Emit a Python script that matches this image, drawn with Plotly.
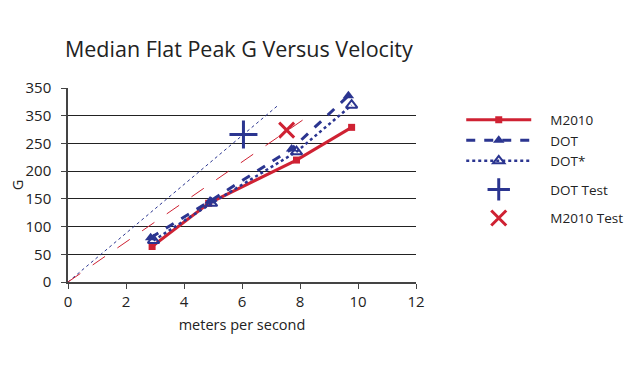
import plotly.graph_objects as go

m2010_x = [2.9, 4.85, 7.88, 9.78]
m2010_y = [64, 142, 220, 279]
dot_x = [2.85, 4.9, 7.71, 9.67]
dot_y = [80, 146, 240, 336]
dots_x = [2.95, 4.95, 7.88, 9.78]
dots_y = [75, 142, 235, 319]
dot_test_x = [6.05]
dot_test_y = [266]
m2010_test_x = [7.54]
m2010_test_y = [274]
ref_blue_x = [0, 7.25]
ref_blue_y = [0, 319]
ref_red_x = [0, 8.2]
ref_red_y = [0, 296]
y_ticks = [0, 50, 100, 150, 200, 250, 300, 350]
y_tick_text = ["0", "50", "100", "150", "200", "250", "350", "350"]
x_ticks = [0, 2, 4, 6, 8, 10, 12]

RED = "#cf2233"
BLUE = "#2b3590"
FONT = "Open Sans"
PAD = "\u00a0\u00a0\u00a0\u00a0"

fig = go.Figure()
fig.add_trace(go.Scatter(x=ref_blue_x, y=ref_blue_y, mode="lines", showlegend=False,
                         line=dict(color=BLUE, width=1, dash="dot"), hoverinfo="skip"))
fig.add_trace(go.Scatter(x=ref_red_x, y=ref_red_y, mode="lines", showlegend=False,
                         line=dict(color=RED, width=1, dash="longdash"), hoverinfo="skip"))
fig.add_trace(go.Scatter(x=m2010_x, y=m2010_y, mode="lines+markers", name=PAD + "M2010",
                         line=dict(color=RED, width=3),
                         marker=dict(symbol="square", size=7, color=RED), legendgroup="a"))
fig.add_trace(go.Scatter(x=dot_x, y=dot_y, mode="lines+markers", name=PAD + "DOT",
                         line=dict(color=BLUE, width=3, dash="dash"),
                         marker=dict(symbol="triangle-up", size=10, color=BLUE), legendgroup="a"))
fig.add_trace(go.Scatter(x=dots_x, y=dots_y, mode="lines+markers", name=PAD + "DOT*",
                         line=dict(color=BLUE, width=2.5, dash="dot"),
                         marker=dict(symbol="triangle-up-open", size=10, color=BLUE,
                                     line=dict(width=2, color=BLUE)), legendgroup="a"))
fig.add_trace(go.Scatter(x=dot_test_x, y=dot_test_y, mode="markers", name=PAD + "DOT Test",
                         marker=dict(symbol="cross-thin-open", size=20, color=BLUE,
                                     line=dict(width=3, color=BLUE)), legendgroup="b"))
fig.add_trace(go.Scatter(x=m2010_test_x, y=m2010_test_y, mode="markers", name=PAD + "M2010 Test",
                         marker=dict(symbol="x-thin-open", size=15, color=RED,
                                     line=dict(width=3, color=RED)), legendgroup="c"))

fig.update_layout(
    width=640, height=368,
    paper_bgcolor="white", plot_bgcolor="white",
    margin=dict(l=60, r=232, t=80, b=94, autoexpand=False),
    font=dict(family=FONT, color="#222", size=13, weight=500),
    title=dict(text="Median Flat Peak G Versus Velocity", x=0.089, xanchor="left",
               y=0.886, yanchor="middle",
               font=dict(size=21.5, color="#222", family=FONT, weight=500)),
    legend=dict(x=1.13, y=0.915, xanchor="left", yanchor="top", itemwidth=65,
                tracegroupgap=8, font=dict(size=13.5, family=FONT, weight=500),
                bgcolor="rgba(0,0,0,0)"),
    xaxis=dict(range=[0, 12], tickvals=x_ticks, showgrid=False, zeroline=False,
               showline=True, linecolor="#444", linewidth=1.5,
               ticks="outside", ticklen=5, tickcolor="#444",
               tickfont=dict(size=15, family=FONT, color="#222", weight=500),
               title=dict(text="meters per second",
                          font=dict(size=14.5, weight=500), standoff=10)),
    yaxis=dict(range=[0, 350], tickvals=y_ticks, ticktext=y_tick_text,
               showgrid=True, gridcolor="#222", gridwidth=1.2, zeroline=False,
               showline=True, linecolor="#444", linewidth=1.5,
               ticks="outside", ticklen=5, tickcolor="#444",
               tickfont=dict(size=15, family=FONT, color="#222", weight=500),
               ticklabelstandoff=7,
               title=dict(text="G", font=dict(size=14.5, weight=500), standoff=10)),
)
fig.write_html("out.html")
